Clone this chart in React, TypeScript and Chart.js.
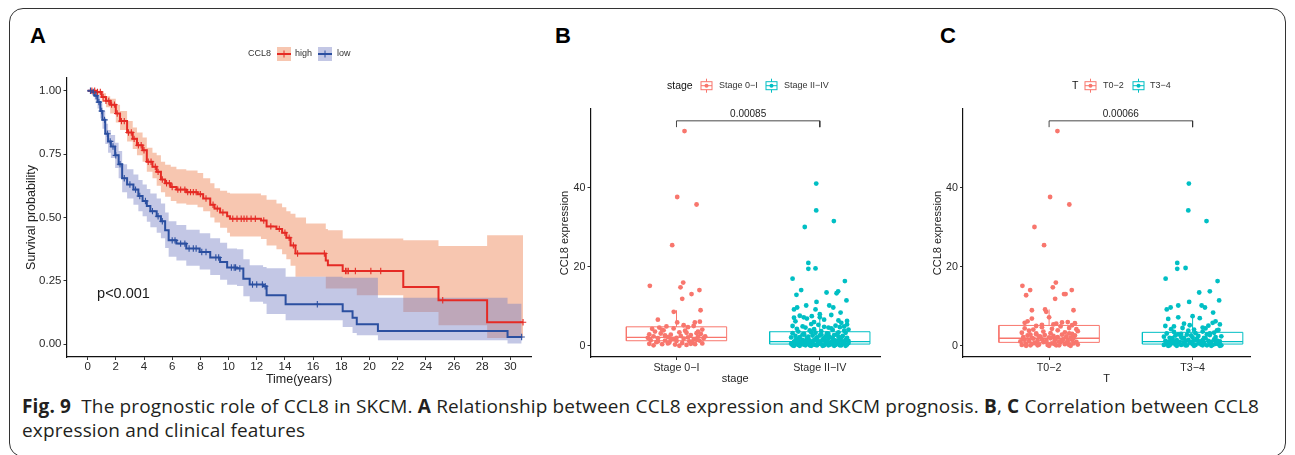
import React, { useEffect, useRef } from "react";
import { Chart, registerables } from "chart.js";

Chart.register(...registerables);

const FONT = "'Liberation Sans', Arial, Helvetica, sans-serif";

// ================= Panel A : Kaplan-Meier =================
const kmGroups = ["high", "low"];
const kmLegendTitle = "CCL8";
const kmPValue = "p<0.001";
const kmXTitle = "Time(years)";
const kmYTitle = "Survival probability";
const kmXTicks = [0, 2, 4, 6, 8, 10, 12, 14, 16, 18, 20, 22, 24, 26, 28, 30];
const kmYTicks = [0, 0.25, 0.5, 0.75, 1];

const kmHighTime = [0, 0.6, 1.0, 1.3, 1.6, 2.0, 2.3, 2.8, 3.2, 3.5, 3.9, 4.2, 4.6, 4.9, 5.2, 5.5, 5.9, 6.3, 7.0, 7.8, 8.2, 8.7, 9.0, 9.4, 9.9, 10.1, 12.3, 12.7, 13.4, 13.8, 14.1, 14.4, 14.75, 15.5, 16.9, 17.05, 18.1, 19.1, 22.4, 24.9, 28.35, 30.9];
const kmHighSurv = [1.0, 0.995, 0.975, 0.96, 0.945, 0.91, 0.88, 0.835, 0.81, 0.785, 0.765, 0.72, 0.70, 0.68, 0.65, 0.635, 0.62, 0.61, 0.60, 0.592, 0.575, 0.55, 0.535, 0.52, 0.505, 0.495, 0.488, 0.465, 0.455, 0.44, 0.42, 0.39, 0.358, 0.358, 0.33, 0.312, 0.289, 0.289, 0.226, 0.174, 0.087, 0.087];
const kmHighUpper = [1.0, 1.0, 0.99, 0.978, 0.968, 0.945, 0.92, 0.88, 0.855, 0.835, 0.815, 0.775, 0.755, 0.745, 0.72, 0.708, 0.70, 0.69, 0.685, 0.675, 0.655, 0.635, 0.615, 0.605, 0.598, 0.595, 0.588, 0.57, 0.555, 0.54, 0.525, 0.515, 0.50, 0.476, 0.455, 0.45, 0.417, 0.417, 0.41, 0.388, 0.43, 0.43];
const kmHighLower = [1.0, 0.985, 0.955, 0.935, 0.91, 0.875, 0.845, 0.80, 0.77, 0.745, 0.72, 0.68, 0.655, 0.625, 0.60, 0.582, 0.565, 0.555, 0.55, 0.54, 0.525, 0.50, 0.48, 0.46, 0.44, 0.425, 0.415, 0.39, 0.375, 0.355, 0.335, 0.31, 0.266, 0.266, 0.22, 0.22, 0.22, 0.193, 0.127, 0.075, 0.025, 0.025];
const kmHighCensor = [0.3, 0.5, 0.7, 0.9, 1.1, 1.3, 1.5, 1.7, 1.9, 2.1, 2.4, 2.6, 2.9, 3.1, 3.3, 3.6, 3.8, 4.0, 4.3, 4.5, 4.8, 5.0, 5.3, 5.6, 5.8, 6.0, 6.4, 6.6, 6.9, 7.1, 7.3, 7.5, 7.7, 8.0, 8.4, 8.9, 9.2, 9.6, 10.3, 10.6, 10.9, 11.1, 11.3, 11.6, 11.9, 12.5, 13.0, 13.6, 14.0, 14.3, 14.6, 14.9, 16.8, 18.3, 18.4, 18.5, 19.0, 20.1, 20.8, 25.2, 30.9];

const kmLowTime = [0, 0.3, 0.5, 0.7, 0.9, 1.05, 1.25, 1.45, 1.65, 1.95, 2.2, 2.45, 2.8, 3.25, 3.6, 3.9, 4.2, 4.45, 4.9, 5.2, 5.5, 5.75, 6.3, 7.0, 7.95, 8.7, 9.4, 9.9, 10.6, 11.05, 11.5, 12.45, 12.7, 14.05, 18.1, 18.8, 19.1, 20.6, 29.8, 30.8];
const kmLowSurv = [1.0, 0.995, 0.98, 0.955, 0.92, 0.885, 0.83, 0.80, 0.78, 0.745, 0.71, 0.655, 0.63, 0.61, 0.585, 0.565, 0.545, 0.525, 0.505, 0.485, 0.45, 0.41, 0.397, 0.378, 0.364, 0.342, 0.325, 0.303, 0.299, 0.259, 0.236, 0.229, 0.193, 0.158, 0.13, 0.105, 0.079, 0.053, 0.029, 0.029];
const kmLowUpper = [1.0, 1.0, 0.995, 0.978, 0.95, 0.92, 0.87, 0.845, 0.825, 0.795, 0.762, 0.71, 0.69, 0.67, 0.648, 0.63, 0.612, 0.595, 0.575, 0.555, 0.52, 0.485, 0.47, 0.452, 0.438, 0.418, 0.40, 0.378, 0.375, 0.335, 0.312, 0.305, 0.30, 0.266, 0.262, 0.262, 0.262, 0.184, 0.16, 0.16];
const kmLowLower = [1.0, 0.985, 0.962, 0.93, 0.89, 0.85, 0.79, 0.755, 0.735, 0.695, 0.655, 0.60, 0.575, 0.55, 0.525, 0.505, 0.483, 0.462, 0.44, 0.418, 0.38, 0.345, 0.33, 0.31, 0.295, 0.273, 0.255, 0.235, 0.23, 0.19, 0.168, 0.16, 0.12, 0.095, 0.068, 0.045, 0.036, 0.016, 0.003, 0.003];
const kmLowCensor = [0.2, 0.4, 0.6, 0.8, 1.0, 1.2, 1.4, 1.6, 1.8, 2.0, 2.3, 2.6, 3.0, 3.4, 3.7, 4.1, 4.6, 5.0, 5.3, 6.0, 6.2, 6.6, 6.9, 7.2, 7.5, 7.7, 8.1, 8.4, 9.1, 9.3, 10.2, 10.4, 10.5, 10.8, 11.7, 12.0, 12.4, 12.6, 16.3, 30.8];

// ================= Panel B : stage =================
const stageCategories = ["Stage 0\u2212I", "Stage II\u2212IV"];
const stageLegendTitle = "stage";
const stagePValue = "0.00085";
// [jitter offset, CCL8 expression]
const stage01Points = [
  [0.056, 54.4], [0.005, 37.7], [0.14, 35.8], [-0.03, 25.5], [-0.186, 15.2], [0.047, 16.0], [0.028, 14.8], [0.16, 14.1], [0.105, 13.1], [0.04, 11.9], [0.168, 9.0], [-0.019, 8.6], [-0.13, 6.6], [0.005, 5.9], [0.128, 5.9], [0.163, 6.1], [0.05, 5.2],
  [-0.17, 4.3], [-0.12, 4.6], [-0.07, 4.9], [-0.02, 4.4], [0.08, 4.7], [0.12, 5.0], [0.18, 4.1], [-0.15, 3.6], [-0.09, 3.9], [0.02, 3.4], [0.06, 3.8], [0.14, 3.2], [-0.19, 2.9], [-0.11, 3.1], [-0.04, 2.8], [0.1, 2.7], [0.17, 3.0], [-0.16, 2.4], [-0.06, 2.2], [0.03, 2.5], [0.08, 2.1], [0.15, 2.3], [-0.13, 1.9], [-0.02, 1.7], [0.05, 1.8], [0.12, 1.6], [0.19, 1.9], [-0.18, 1.4], [-0.08, 1.3], [0.0, 1.2], [0.09, 1.1], [0.16, 1.3], [-0.14, 0.9], [-0.05, 0.8], [0.04, 0.7], [0.11, 0.9], [0.18, 0.6], [-0.19, 0.5], [-0.1, 0.4], [-0.01, 0.3], [0.07, 0.2], [0.13, 0.4], [-0.16, 0.1], [0.02, 0.0], [-0.08, 2.6], [0.07, 3.3], [-0.13, 1.1], [0.14, 1.5], [-0.04, 1.5], [0.1, 0.5], [-0.2, 2.0], [0.2, 2.4], [-0.1, 4.0], [0.0, 2.0], [0.15, 3.6], [-0.06, 0.6],
];
const stage24Points = [
  [-0.025, 41.1], [-0.025, 34.3], [0.098, 31.6], [-0.105, 30.1], [-0.08, 21.0], [-0.08, 19.5], [-0.03, 19.6], [-0.19, 17.0], [0.175, 16.4], [-0.13, 14.1], [-0.163, 12.9], [0.047, 13.5], [0.128, 13.8], [0.117, 13.3], [-0.023, 11.1], [0.186, 11.5], [0.066, 10.2], [0.094, 9.7], [-0.095, 10.2], [-0.18, 9.2], [-0.158, 9.7], [-0.03, 9.2], [0.145, 8.4], [-0.056, 7.5], [-0.112, 7.2], [-0.18, 7.1], [0.0, 7.2], [0.19, 6.3],
  [0.15, 5.8], [-0.17, 6.2], [0.03, 6.6], [-0.06, 5.5], [0.11, 5.1], [0.19, 5.4], [-0.12, 4.9], [-0.19, 5.0], [0.06, 4.6], [-0.01, 5.3], [0.08, 7.8], [-0.09, 6.9], [0.13, 6.4], [-0.14, 7.6], [0.0, 8.0], [0.17, 4.9], [-0.04, 6.0],
  [-0.19, 0.1], [-0.17, 0.4], [-0.15, 0.2], [-0.13, 0.6], [-0.11, 0.3], [-0.09, 0.8], [-0.07, 0.1], [-0.05, 0.5], [-0.03, 0.2], [-0.01, 0.9], [0.01, 0.4], [0.03, 0.1], [0.05, 0.7], [0.07, 0.3], [0.09, 0.5], [0.11, 0.2], [0.13, 0.8], [0.15, 0.1], [0.17, 0.6], [0.19, 0.3],
  [-0.18, 1.0], [-0.16, 1.3], [-0.14, 1.1], [-0.12, 1.5], [-0.1, 1.2], [-0.08, 1.7], [-0.06, 1.0], [-0.04, 1.4], [-0.02, 1.9], [0.0, 1.1], [0.02, 1.6], [0.04, 1.2], [0.06, 1.8], [0.08, 1.0], [0.1, 1.4], [0.12, 1.3], [0.14, 1.7], [0.16, 1.1], [0.18, 1.5], [0.2, 1.2],
  [-0.2, 2.1], [-0.17, 2.5], [-0.14, 2.2], [-0.11, 2.8], [-0.08, 2.3], [-0.05, 2.6], [-0.02, 2.1], [0.01, 2.9], [0.04, 2.4], [0.07, 2.2], [0.1, 2.7], [0.13, 2.3], [0.16, 2.5], [0.19, 2.0],
  [-0.19, 3.2], [-0.15, 3.6], [-0.11, 3.0], [-0.07, 3.9], [-0.03, 3.3], [0.01, 3.7], [0.05, 3.1], [0.09, 4.0], [0.13, 3.4], [0.17, 3.8],
  [-0.16, 4.3], [-0.1, 4.6], [-0.04, 4.2], [0.03, 4.8], [0.08, 4.4], [0.14, 4.7], [0.2, 4.1],
  [-0.18, 0.0], [-0.14, 0.0], [-0.1, 0.1], [-0.06, 0.0], [-0.02, 0.1], [0.02, 0.0], [0.06, 0.1], [0.1, 0.0], [0.14, 0.1], [0.18, 0.0],
  [-0.2, 0.5], [-0.16, 0.7], [-0.12, 0.4], [-0.08, 0.6], [-0.04, 0.3], [0.0, 0.6], [0.04, 0.8], [0.08, 0.4], [0.12, 0.6], [0.16, 0.9], [0.2, 0.7],
  [-0.15, 1.8], [-0.09, 2.0], [-0.03, 1.6], [0.03, 2.0], [0.09, 1.9], [0.15, 2.1],
  [-0.12, 2.9], [-0.06, 3.4], [0.0, 2.6], [0.06, 3.0], [0.12, 2.9], [0.18, 3.3],
  [-0.17, 1.4], [-0.13, 0.9], [-0.07, 1.3], [-0.01, 0.7], [0.05, 1.3], [0.11, 0.9], [0.17, 1.0],
];
// [lower whisker, Q1, median, Q3, upper whisker]
const stageBoxStats = [
  [0.0, 1.27, 2.1, 4.8, 9.0],
  [0.0, 0.43, 1.05, 3.55, 8.0],
];
const stageBracket = [55.4, 57.0];

// ================= Panel C : T =================
const tCategories = ["T0\u22122", "T3\u22124"];
const tLegendTitle = "T";
const tPValue = "0.00066";
const t02Points = [
  [0.058, 54.4], [0.007, 37.7], [0.141, 35.8], [-0.102, 30.1], [-0.035, 25.5], [-0.186, 15.2], [-0.132, 14.1], [-0.16, 12.8], [0.047, 16.0], [0.026, 14.8], [0.158, 14.1], [0.104, 13.1], [0.115, 13.1], [0.042, 11.9], [-0.12, 9.0], [-0.028, 9.2], [-0.02, 8.6], [0.17, 9.0],
  [-0.12, 6.9], [-0.17, 5.8], [0.0, 7.2], [0.05, 5.6], [0.13, 6.0], [0.18, 5.7], [-0.05, 5.3], [0.09, 5.9], [-0.15, 6.2], [0.16, 5.2], [-0.09, 5.0], [0.03, 5.4],
  [-0.19, 0.2], [-0.16, 0.5], [-0.13, 0.1], [-0.1, 0.7], [-0.07, 0.3], [-0.04, 0.9], [-0.01, 0.2], [0.02, 0.6], [0.05, 0.1], [0.08, 0.8], [0.11, 0.4], [0.14, 0.2], [0.17, 0.6], [0.2, 0.3],
  [-0.2, 1.1], [-0.17, 1.5], [-0.14, 1.2], [-0.11, 1.8], [-0.08, 1.3], [-0.05, 1.6], [-0.02, 1.0], [0.01, 1.9], [0.04, 1.4], [0.07, 1.1], [0.1, 1.7], [0.13, 1.2], [0.16, 1.5], [0.19, 1.0],
  [-0.18, 2.2], [-0.15, 2.6], [-0.12, 2.0], [-0.09, 2.9], [-0.06, 2.3], [-0.03, 2.7], [0.0, 2.1], [0.03, 2.5], [0.06, 2.2], [0.09, 2.8], [0.12, 2.4], [0.15, 2.0], [0.18, 2.6],
  [-0.19, 3.3], [-0.14, 3.8], [-0.09, 3.1], [-0.04, 3.6], [0.01, 3.2], [0.06, 3.9], [0.11, 3.4], [0.16, 3.0], [0.2, 3.7],
  [-0.17, 4.4], [-0.11, 4.1], [-0.05, 4.7], [0.02, 4.3], [0.08, 4.9], [0.14, 4.5], [0.19, 4.2],
  [-0.16, 0.0], [-0.08, 0.1], [0.0, 0.0], [0.07, 0.1], [0.15, 0.0], [-0.12, 0.5], [0.04, 0.4], [0.12, 0.8], [-0.02, 1.3], [0.09, 1.2], [-0.18, 1.7], [0.17, 1.9], [-0.07, 2.4], [0.05, 2.0], [-0.13, 2.8], [0.14, 3.1],
];
const t34Points = [
  [-0.026, 41.1], [-0.03, 34.3], [0.097, 31.6], [-0.107, 21.0], [-0.107, 19.5], [-0.049, 19.7], [-0.188, 17.0], [0.174, 16.4], [0.046, 13.5], [0.12, 13.8], [0.185, 11.5], [-0.024, 11.1], [0.063, 10.2], [0.086, 9.7], [-0.1, 10.2], [-0.18, 9.2], [-0.153, 9.7], [0.143, 8.4], [0.0, 7.5],
  [-0.17, 6.8], [-0.1, 7.2], [0.05, 7.0], [0.16, 6.2], [-0.06, 5.6], [0.11, 5.1], [0.19, 5.4], [-0.13, 4.9], [0.07, 4.6], [-0.02, 5.2], [0.14, 5.8], [-0.19, 5.0],
  [-0.2, 0.2], [-0.18, 0.5], [-0.16, 0.1], [-0.14, 0.7], [-0.12, 0.3], [-0.1, 0.9], [-0.08, 0.2], [-0.06, 0.6], [-0.04, 0.1], [-0.02, 0.8], [0.0, 0.4], [0.02, 0.2], [0.04, 0.6], [0.06, 0.3], [0.08, 0.5], [0.1, 0.1], [0.12, 0.7], [0.14, 0.2], [0.16, 0.5], [0.18, 0.4], [0.2, 0.1],
  [-0.19, 1.2], [-0.17, 1.0], [-0.15, 1.6], [-0.13, 1.1], [-0.11, 1.4], [-0.09, 1.0], [-0.07, 1.8], [-0.05, 1.2], [-0.03, 1.5], [-0.01, 1.0], [0.01, 1.3], [0.03, 1.7], [0.05, 1.1], [0.07, 1.4], [0.09, 1.9], [0.11, 1.2], [0.13, 1.0], [0.15, 1.6], [0.17, 1.3], [0.19, 1.1],
  [-0.2, 2.3], [-0.16, 2.0], [-0.12, 2.6], [-0.08, 2.2], [-0.04, 2.8], [0.0, 2.1], [0.04, 2.5], [0.08, 2.0], [0.12, 2.7], [0.16, 2.2], [0.2, 2.4],
  [-0.18, 3.1], [-0.13, 3.5], [-0.08, 3.0], [-0.03, 3.8], [0.02, 3.2], [0.07, 3.6], [0.12, 3.1], [0.17, 3.9],
  [-0.15, 4.2], [-0.07, 4.5], [0.01, 4.1], [0.09, 4.4], [0.18, 4.0],
  [-0.17, 0.0], [-0.11, 0.0], [-0.05, 0.1], [0.01, 0.0], [0.07, 0.1], [0.13, 0.0], [0.19, 0.0],
  [-0.14, 1.9], [-0.06, 2.0], [0.03, 1.8], [0.1, 2.9], [-0.1, 2.9], [0.15, 3.3], [-0.01, 2.6], [0.06, 0.9], [-0.16, 0.8], [0.17, 0.7],
];
const tBoxStats = [
  [0.0, 0.86, 1.9, 5.15, 9.2],
  [0.0, 0.43, 1.05, 3.4, 7.5],
];
const tBracket = [55.4, 57.0];

const exprYTicks = [0, 20, 40];
const exprYTitle = "CCL8 expression";

// ================= styling =================
const HIGH_LINE = "#E52A24";
const LOW_LINE = "#2B4FA0";
const HIGH_BAND = "rgba(238,128,80,0.45)";
const LOW_BAND = "rgba(122,130,198,0.45)";
const COL1 = "#F8766D";
const COL2 = "#00BFC4";

type Geo = {
  left: number; top: number; width: number; height: number;
  areaL: number; areaT: number; areaR: number; areaB: number;
  yTitleX: number; xTitleY: number; titleSize: number;
};

function layoutFor(g: Geo) {
  const lh = g.titleSize * 1.2;
  const pl = g.yTitleX - g.left - lh / 2;
  const yWidth = g.areaL - g.left - pl;
  const pt = g.areaT - g.top;
  const pr = g.left + g.width - g.areaR;
  const scaleBottom = g.xTitleY - g.top + lh / 2;
  const pb = g.height - scaleBottom;
  const xHeight = scaleBottom - (g.areaB - g.top);
  return { padding: { left: pl, top: pt, right: pr, bottom: pb }, yWidth, xHeight };
}

function axisBase(size: number, pad = 2) {
  return {
    grid: { display: true, drawOnChartArea: false, drawTicks: true, tickLength: 3, color: "#333", lineWidth: 1 },
    border: { display: true, color: "#111", width: 1.2 },
    ticks: { color: "#2a2a2a", font: { size, family: FONT }, padding: pad, autoSkip: false, maxRotation: 0, minRotation: 0 },
  };
}

function stepAt(times: number[], vals: number[], t: number) {
  let v = vals[0];
  for (let i = 0; i < times.length; i++) if (times[i] <= t) v = vals[i];
  return v;
}

const pts = (xs: number[], ys: number[]) => xs.map((x, i) => ({ x, y: ys[i] }));

const GEO_A: Geo = { left: 10, top: 20, width: 540, height: 372, areaL: 66.5, areaT: 78, areaR: 531.5, areaB: 357, yTitleX: 32, xTitleY: 380, titleSize: 12.5 };
const GEO_B: Geo = { left: 548, top: 20, width: 345, height: 372, areaL: 590.5, areaT: 109, areaR: 880, areaB: 357, yTitleX: 565, xTitleY: 379, titleSize: 11 };
const GEO_C: Geo = { left: 928, top: 20, width: 340, height: 372, areaL: 963, areaT: 109, areaR: 1250, areaB: 357, yTitleX: 938, xTitleY: 379, titleSize: 11 };

function KMPanel() {
  const ref = useRef<HTMLCanvasElement | null>(null);
  useEffect(() => {
    if (!ref.current) return;
    const g = GEO_A;
    const lay = layoutFor(g);
    const ox = g.left, oy = g.top;
    const overlay = {
      id: "kmOverlay",
      afterDraw(chart: any) {
        const ctx = chart.ctx;
        const xs = chart.scales.x, ys = chart.scales.y;
        ctx.save();
        ctx.font = `14.5px ${FONT}`;
        ctx.fillStyle = "#1a1a1a";
        ctx.textAlign = "left";
        ctx.textBaseline = "middle";
        ctx.fillText(kmPValue, xs.getPixelForValue(0.67), ys.getPixelForValue(0.197));
        const ly = 54 - oy;
        ctx.font = `9px ${FONT}`;
        ctx.fillStyle = "#333";
        ctx.fillText(kmLegendTitle, 248 - ox, ly);
        const keys = [
          { kx: 277, tx: 295, band: HIGH_BAND, line: HIGH_LINE, label: kmGroups[0] },
          { kx: 318, tx: 337, band: LOW_BAND, line: LOW_LINE, label: kmGroups[1] },
        ];
        for (const k of keys) {
          const x0 = k.kx - ox;
          ctx.fillStyle = k.band;
          ctx.fillRect(x0, ly - 7, 14, 14);
          ctx.strokeStyle = k.line;
          ctx.lineWidth = 2;
          ctx.beginPath(); ctx.moveTo(x0, ly); ctx.lineTo(x0 + 14, ly); ctx.stroke();
          ctx.lineWidth = 1;
          ctx.beginPath(); ctx.moveTo(x0 + 7, ly - 3.5); ctx.lineTo(x0 + 7, ly + 3.5); ctx.stroke();
          ctx.fillStyle = "#333";
          ctx.fillText(k.label, k.tx - ox, ly);
        }
        ctx.restore();
      },
    };
    const stepLine = (data: any, color: string) => ({
      data, borderColor: color, borderWidth: 2, stepped: "before", pointRadius: 0, fill: false,
    });
    const bandEdge = (data: any, fill: any, bg: string) => ({
      data, borderColor: "rgba(0,0,0,0)", borderWidth: 1, stepped: "before", pointRadius: 0, fill, backgroundColor: bg,
    });
    const censor = (times: number[], T: number[], S: number[], color: string) => ({
      data: times.map((t) => ({ x: t, y: stepAt(T, S, t) })),
      showLine: false, pointStyle: "cross", pointRadius: 3.2, pointBorderColor: color, pointBorderWidth: 1.1, borderColor: color,
    });
    const chart = new Chart(ref.current, {
      type: "line",
      data: {
        datasets: [
          censor(kmLowCensor, kmLowTime, kmLowSurv, LOW_LINE),
          censor(kmHighCensor, kmHighTime, kmHighSurv, HIGH_LINE),
          stepLine(pts(kmLowTime, kmLowSurv), LOW_LINE),
          stepLine(pts(kmHighTime, kmHighSurv), HIGH_LINE),
          bandEdge(pts(kmLowTime, kmLowUpper), "+1", LOW_BAND),
          bandEdge(pts(kmLowTime, kmLowLower), false, LOW_BAND),
          bandEdge(pts(kmHighTime, kmHighUpper), "+1", HIGH_BAND),
          bandEdge(pts(kmHighTime, kmHighLower), false, HIGH_BAND),
        ] as any,
      },
      options: {
        animation: false,
        responsive: false,
        layout: { padding: lay.padding },
        plugins: { legend: { display: false }, tooltip: { enabled: false }, filler: { drawTime: "beforeDatasetsDraw" } },
        scales: {
          x: {
            type: "linear", min: -1.5, max: 31.5, ...axisBase(11.5, 0),
            afterBuildTicks: (s: any) => { s.ticks = kmXTicks.map((v) => ({ value: v })); },
            afterFit: (s: any) => { s.height = lay.xHeight; },
            title: { display: true, text: kmXTitle, color: "#222", font: { size: g.titleSize, family: FONT }, padding: 0 },
          },
          y: {
            type: "linear", min: -0.05, max: 1.05, ...axisBase(11.5),
            ticks: { ...axisBase(11.5).ticks, callback: (v: any) => Number(v).toFixed(2) },
            afterBuildTicks: (s: any) => { s.ticks = kmYTicks.map((v) => ({ value: v })); },
            afterFit: (s: any) => { s.width = lay.yWidth; },
            title: { display: true, text: kmYTitle, color: "#222", font: { size: g.titleSize, family: FONT }, padding: 0 },
          },
        },
      } as any,
      plugins: [overlay],
    });
    return () => chart.destroy();
  }, []);
  const g = GEO_A;
  return <canvas ref={ref} width={g.width} height={g.height} style={{ position: "absolute", left: g.left, top: g.top, width: g.width, height: g.height }} />;
}

function BoxPanel(props: {
  geo: Geo; xMax: number; categories: string[]; groups: number[][][]; stats: number[][];
  pValue: string; bracket: number[]; legendTitle: string; legend: { titleX: number; keys: number[]; texts: number[] };
  xTitle: string;
}) {
  const ref = useRef<HTMLCanvasElement | null>(null);
  useEffect(() => {
    if (!ref.current) return;
    const g = props.geo;
    const lay = layoutFor(g);
    const ox = g.left, oy = g.top;
    const colors = [COL1, COL2];
    const HW = 0.35;
    const overlay = {
      id: "boxOverlay",
      afterDraw(chart: any) {
        const ctx = chart.ctx;
        const xs = chart.scales.x, ys = chart.scales.y;
        ctx.save();
        ctx.font = `10px ${FONT}`;
        ctx.fillStyle = "#222";
        ctx.textAlign = "center";
        ctx.textBaseline = "middle";
        ctx.fillText(props.pValue, xs.getPixelForValue(1.5), ys.getPixelForValue(props.bracket[1]) - 6.5);
        const ly = 85.7 - oy;
        ctx.textAlign = "left";
        ctx.font = `10.5px ${FONT}`;
        ctx.fillStyle = "#111";
        ctx.fillText(props.legendTitle, props.legend.titleX - ox, ly);
        ctx.font = `9px ${FONT}`;
        for (let i = 0; i < 2; i++) {
          const x0 = props.legend.keys[i] - ox;
          ctx.strokeStyle = colors[i];
          ctx.lineWidth = 1;
          ctx.beginPath(); ctx.moveTo(x0 + 6.5, ly - 7); ctx.lineTo(x0 + 6.5, ly + 7); ctx.stroke();
          ctx.fillStyle = "#fff";
          ctx.fillRect(x0 + 1, ly - 4, 11, 8);
          ctx.strokeRect(x0 + 1, ly - 4, 11, 8);
          ctx.beginPath(); ctx.moveTo(x0 + 1, ly); ctx.lineTo(x0 + 12, ly); ctx.stroke();
          ctx.fillStyle = colors[i];
          ctx.beginPath(); ctx.arc(x0 + 6.5, ly, 2, 0, Math.PI * 2); ctx.fill();
          ctx.fillStyle = "#333";
          ctx.fillText(props.categories[i], props.legend.texts[i] - ox, ly);
        }
        ctx.restore();
      },
    };
    const datasets: any[] = [];
    props.groups.forEach((grp, i) => {
      datasets.push({
        data: grp.map(([dx, v]) => ({ x: i + 1 + dx, y: v })),
        showLine: false, pointRadius: 2.4, pointBackgroundColor: colors[i], pointBorderWidth: 0, borderColor: colors[i],
      });
    });
    props.stats.forEach(([lo, q1, med, q3, hi], i) => {
      const c = i + 1;
      const line = (data: any, w = 1) => ({ data, borderColor: colors[i], borderWidth: w, pointRadius: 0, fill: false, showLine: true });
      datasets.push(line([{ x: c - HW, y: med }, { x: c + HW, y: med }], 1.3));
      datasets.push(line([{ x: c - HW, y: q1 }, { x: c + HW, y: q1 }, { x: c + HW, y: q3 }, { x: c - HW, y: q3 }, { x: c - HW, y: q1 }]));
      datasets.push(line([{ x: c, y: q3 }, { x: c, y: hi }]));
      datasets.push(line([{ x: c, y: q1 }, { x: c, y: lo }]));
    });
    datasets.push({
      data: [{ x: 1, y: props.bracket[0] }, { x: 1, y: props.bracket[1] }, { x: 2, y: props.bracket[1] }, { x: 2, y: props.bracket[0] }],
      borderColor: "#333", borderWidth: 0.9, pointRadius: 0, fill: false,
    });
    const chart = new Chart(ref.current, {
      type: "line",
      data: { datasets },
      options: {
        animation: false,
        responsive: false,
        layout: { padding: lay.padding },
        plugins: { legend: { display: false }, tooltip: { enabled: false } },
        scales: {
          x: {
            type: "linear", min: 0.4, max: props.xMax, ...axisBase(10.7),
            ticks: { ...axisBase(10.7).ticks, callback: (v: any) => props.categories[Math.round(v) - 1] },
            afterBuildTicks: (s: any) => { s.ticks = [1, 2].map((v) => ({ value: v })); },
            afterFit: (s: any) => { s.height = lay.xHeight; },
            title: { display: true, text: props.xTitle, color: "#222", font: { size: g.titleSize, family: FONT }, padding: 0 },
          },
          y: {
            type: "linear", min: -2.85, max: 60, ...axisBase(10.7),
            afterBuildTicks: (s: any) => { s.ticks = exprYTicks.map((v) => ({ value: v })); },
            afterFit: (s: any) => { s.width = lay.yWidth; },
            title: { display: true, text: exprYTitle, color: "#222", font: { size: g.titleSize, family: FONT }, padding: 0 },
          },
        },
      } as any,
      plugins: [overlay],
    });
    return () => chart.destroy();
  }, []);
  const g = props.geo;
  return <canvas ref={ref} width={g.width} height={g.height} style={{ position: "absolute", left: g.left, top: g.top, width: g.width, height: g.height }} />;
}

const letterStyle: React.CSSProperties = {
  position: "absolute", fontFamily: FONT, fontWeight: "bold", fontSize: 22, lineHeight: "22px", color: "#000", top: 25,
};

export default function App() {
  return (
    <div style={{ position: "fixed", left: 0, top: 0, width: 1295, height: 455, background: "#fff", overflow: "hidden" }}>
      <div style={{ position: "absolute", left: 9, top: 7.5, width: 1277, height: 449, border: "1.5px solid #333", borderRadius: 14, boxSizing: "border-box" }} />
      <div style={{ ...letterStyle, left: 30 }}>A</div>
      <div style={{ ...letterStyle, left: 555 }}>B</div>
      <div style={{ ...letterStyle, left: 940 }}>C</div>
      <KMPanel />
      <BoxPanel
        geo={GEO_B} xMax={2.42} categories={stageCategories} groups={[stage01Points, stage24Points]} stats={stageBoxStats}
        pValue={stagePValue} bracket={stageBracket} legendTitle={stageLegendTitle}
        legend={{ titleX: 667, keys: [700, 765], texts: [719, 784] }} xTitle="stage"
      />
      <BoxPanel
        geo={GEO_C} xMax={2.4} categories={tCategories} groups={[t02Points, t34Points]} stats={tBoxStats}
        pValue={tPValue} bracket={tBracket} legendTitle={tLegendTitle}
        legend={{ titleX: 1072, keys: [1084, 1132], texts: [1103, 1150] }} xTitle="T"
      />
      <div style={{ position: "absolute", left: 22, top: 394, fontFamily: "'Open Sans', 'Noto Sans', sans-serif", fontSize: 19, lineHeight: "24px", color: "#231F20", whiteSpace: "nowrap", letterSpacing: "0.15px" }}>
        <b>Fig. 9</b>&nbsp;&nbsp;The prognostic role of CCL8 in SKCM. <b>A</b> Relationship between CCL8 expression and SKCM prognosis. <b>B</b>, <b>C</b> Correlation between CCL8
        <br />
        expression and clinical features
      </div>
    </div>
  );
}
